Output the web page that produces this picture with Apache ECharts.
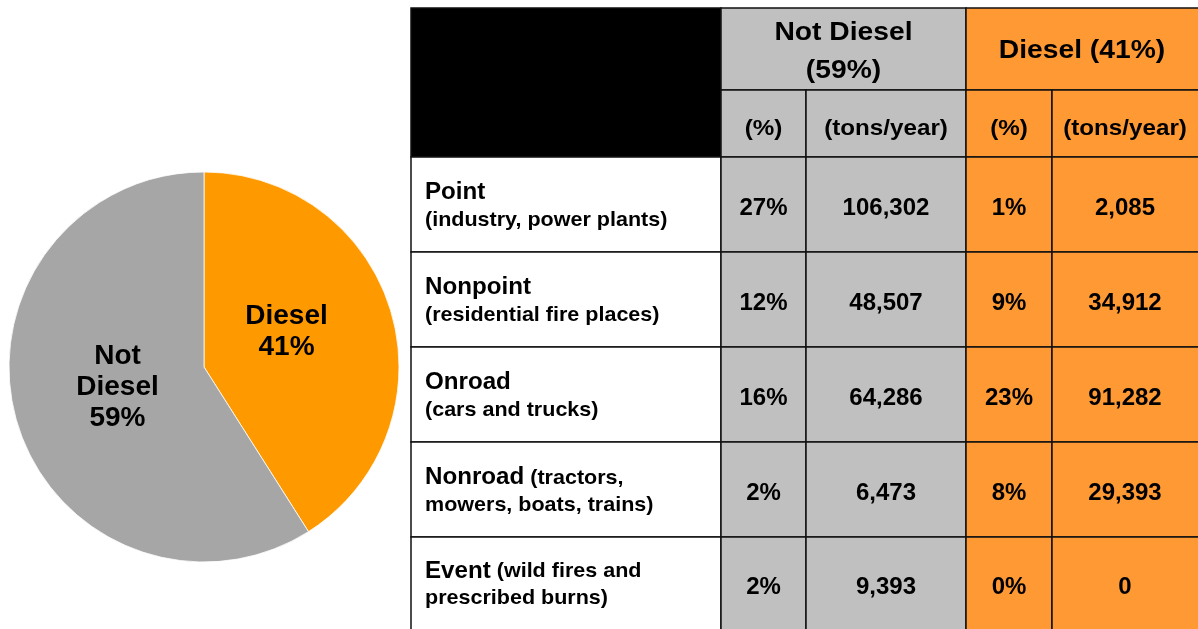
<!DOCTYPE html>
<html>
<head>
<meta charset="UTF-8">
<title></title>
<script src="https://cdn.jsdelivr.net/npm/echarts@6/dist/echarts.min.js"></script>
<style>
  html, body { margin: 0; padding: 0; background: #fff; }
  #main { width: 1198px; height: 629px; }
</style>
</head>
<body>
<div id="main"></div>
<script type="text/javascript">
// pie shares
var pieNames = ['Diesel', 'Not Diesel'];
var pieValues = [41, 59];

// table data
var categories = ['Point', 'Nonpoint', 'Onroad', 'Nonroad', 'Event'];
var descriptions = ['\n(industry, power plants)', '\n(residential fire places)', '\n(cars and trucks)',
  ' (tractors,\nmowers, boats, trains)', ' (wild fires and\nprescribed burns)'];
var notDieselPct = ['27%', '12%', '16%', '2%', '2%'];
var notDieselTons = ['106,302', '48,507', '64,286', '6,473', '9,393'];
var dieselPct = ['1%', '9%', '23%', '8%', '0%'];
var dieselTons = ['2,085', '34,912', '91,282', '29,393', '0'];
var groupHeaders = ['Not Diesel\n(59%)', 'Diesel (41%)'];
var subHeaders = ['(%)', '(tons/year)', '(%)', '(tons/year)'];

var FONT = '"Liberation Sans", Arial, sans-serif';
var GREY = '#c0c0c0', ORANGE = '#ff9933';
var colX = [411, 721, 806, 966, 1052, 1201];
var rowY = [8, 90, 157, 252, 347, 442, 537, 633];

var g = [];
function cell(x0, y0, x1, y1, fill) {
  g.push({ type: 'rect', shape: { x: x0, y: y0, width: x1 - x0, height: y1 - y0 },
    style: { fill: fill, stroke: '#111', lineWidth: 1.5 }, z: 1 });
}
function txt(x, y, s, size, lh, sx) {
  g.push({ type: 'text', x: x, y: y, z: 3, scaleX: sx || 1,
    style: { text: s, fill: '#000', font: 'bold ' + size + 'px ' + FONT,
      align: 'center', verticalAlign: 'middle', lineHeight: lh || size * 1.3 } });
}

// header
cell(colX[0], rowY[0], colX[1], rowY[2], '#000');
cell(colX[1], rowY[0], colX[3], rowY[1], GREY);
cell(colX[3], rowY[0], colX[5], rowY[1], ORANGE);
txt((colX[1] + colX[3]) / 2, (rowY[0] + rowY[1]) / 2 + 3, groupHeaders[0], 25, 38, 1.13);
txt((colX[3] + colX[5] - 3) / 2, (rowY[0] + rowY[1]) / 2 + 2, groupHeaders[1], 25, 38, 1.13);
for (var c = 0; c < 4; c++) {
  cell(colX[c + 1], rowY[1], colX[c + 2], rowY[2], c < 2 ? GREY : ORANGE);
  txt((colX[c + 1] + colX[c + 2] - (c == 3 ? 3 : 0)) / 2, (rowY[1] + rowY[2]) / 2 + 5, subHeaders[c], 22, 28, 1.1);
}

// data rows
for (var r = 0; r < categories.length; r++) {
  var y0 = rowY[r + 2], y1 = rowY[r + 3], ym = (y0 + y1) / 2;
  if (r == categories.length - 1) ym = (y0 + 629) / 2;
  cell(colX[0], y0, colX[1], y1, '#fff');
  g.push({ type: 'text', x: 425, y: ym + 2, z: 3, scaleX: 1.05,
    style: { text: '{a|' + categories[r] + '}{b|' + descriptions[r] + '}',
      verticalAlign: 'middle', align: 'left',
      rich: {
        a: { font: 'bold 23px ' + FONT, fill: '#000', lineHeight: 27 },
        b: { font: 'bold 20.5px ' + FONT, fill: '#000', lineHeight: 27 }
      } } });
  var vals = [notDieselPct[r], notDieselTons[r], dieselPct[r], dieselTons[r]];
  for (var k = 0; k < 4; k++) {
    cell(colX[k + 1], y0, colX[k + 2], y1, k < 2 ? GREY : ORANGE);
    txt((colX[k + 1] + colX[k + 2] - (k == 3 ? 3 : 0)) / 2, ym + 4, vals[k], 24);
  }
}

// nudge of each pie label from the default inner spot
var labelShift = [[-14, -7], [10, -8]];

var chart = echarts.init(document.getElementById('main'));
chart.setOption({
  animation: false,
  graphic: { elements: g },
  series: [{
    type: 'pie',
    center: [204, 367],
    radius: [0, 195],
    startAngle: 90,
    clockwise: true,
    silent: true,
    itemStyle: { borderColor: '#fff', borderWidth: 0.8 },
    label: {
      show: true,
      position: 'inner',
      color: '#000',
      fontFamily: FONT,
      fontWeight: 'bold',
      fontSize: 28,
      lineHeight: 31,
      formatter: function (p) { return p.name.replace(' ', '\n') + '\n' + p.value + '%'; }
    },
    labelLayout: function (p) {
      return { dx: labelShift[p.dataIndex][0], dy: labelShift[p.dataIndex][1] };
    },
    labelLine: { show: false },
    data: pieNames.map(function (n, i) {
      return { name: n, value: pieValues[i], itemStyle: { color: i == 0 ? '#ff9900' : '#a6a6a6' } };
    })
  }]
});
</script>
</body>
</html>
